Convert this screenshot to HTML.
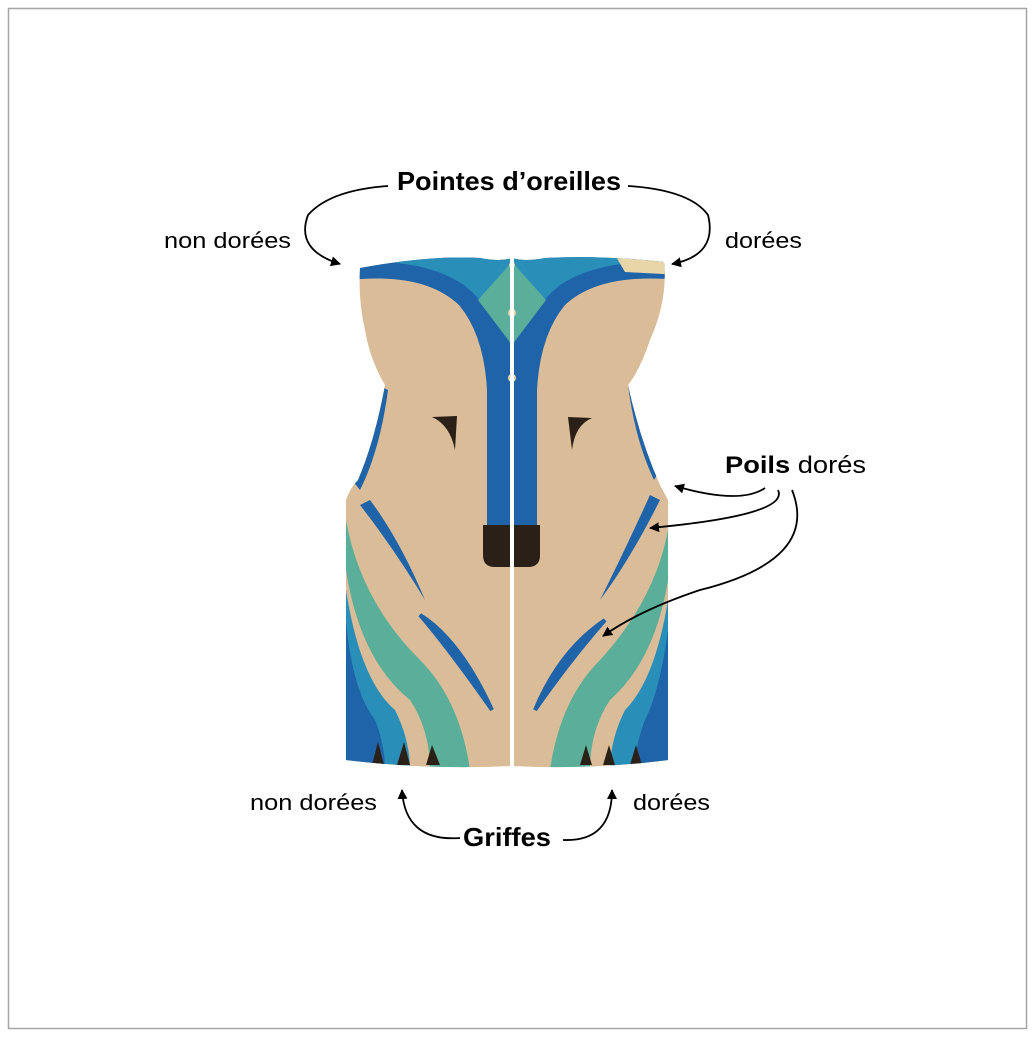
<!DOCTYPE html>
<html><head><meta charset="utf-8"><style>
html,body{margin:0;padding:0;background:#fff;}
svg{display:block;}
text{font-family:"Liberation Sans",sans-serif;fill:#000;}
</style></head><body>
<svg width="1035" height="1037" viewBox="0 0 1035 1037" xmlns="http://www.w3.org/2000/svg">
<defs>
<marker id="ah" markerWidth="10" markerHeight="10" refX="9" refY="5" orient="auto" markerUnits="userSpaceOnUse">
<path d="M0,0 L10,5 L0,10 z" fill="#000"/></marker>
<clipPath id="body">
<path d="M360,268 Q430,255 480,258 Q500,262 512,258 Q525,262 545,258 Q600,255 664,262 Q668,300 650,340 Q640,370 628,385 Q640,440 660,485 L668,500 L668,760 Q590,770 512,766 Q430,770 346,760 L346,500 Q350,488 358,480 Q375,440 385,385 Q370,360 365,330 Q358,300 360,268 Z"/>
</clipPath>
</defs>
<rect x="8.5" y="8.5" width="1018" height="1020" fill="#fff" stroke="#a6a6a6" stroke-width="1.5"/>

<g clip-path="url(#body)">
<rect x="340" y="250" width="340" height="530" fill="#dbbc98"/>
<!-- dark blue Y band -->
<path d="M350,255 L680,255 L680,280 Q600,272 565,305 Q540,335 537,390 L537,525 L487,525 L487,390 Q484,335 459,305 Q424,272 350,280 Z" fill="#1f63a8"/>
<!-- mid blue top -->
<path d="M350,255 L680,255 L680,262 Q600,258 560,285 Q530,310 512,345 Q494,310 464,285 Q424,258 350,262 Z" fill="#2a8fb8"/>
<path d="M478,300 L512,262 L546,300 L512,345 Z" fill="#5aae9a"/>
<path d="M615,255 L680,255 L680,275 L625,272 Z" fill="#e8d6a8"/>
<!-- nose -->
<path d="M483,525 L540,525 L540,555 Q540,567 528,567 L495,567 Q483,567 483,555 Z" fill="#2a2018"/>
<!-- eyes -->
<path d="M432,417 L457,416 L455,450 Q450,425 432,417 Z" fill="#2a2018"/>
<path d="M568,417 L592,418 Q575,425 572,450 Z" fill="#2a2018"/>
<!-- side stripes -->
<path d="M378,385 L388,390 Q380,450 360,490 L352,480 Q370,440 378,385Z" fill="#1f63a8"/>
<path d="M628,385 L636,388 Q640,440 660,470 L654,480 Q635,440 628,385Z" fill="#1f63a8"/>
<path d="M360,505 L370,500 Q400,540 425,600 Q395,550 360,505Z" fill="#1f63a8"/>
<path d="M420,615 Q460,640 492,710 Q450,650 420,615Z" fill="#1f63a8" stroke="#1f63a8" stroke-width="4"/>
<path d="M650,495 L660,500 Q630,560 600,600 Q625,550 650,495Z" fill="#1f63a8"/>
<path d="M605,620 Q560,650 535,710 Q570,660 605,620Z" fill="#1f63a8" stroke="#1f63a8" stroke-width="4"/>
<!-- bottom left -->
<path d="M346,520 Q360,600 420,660 Q460,700 470,770 L346,770 Z" fill="#5aae9a"/>
<path d="M346,570 Q360,660 410,700 Q430,730 430,770 L346,770 Z" fill="#dbbc98"/>
<path d="M346,590 Q360,680 395,710 Q410,740 410,770 L346,770 Z" fill="#2a8fb8"/>
<path d="M346,620 Q352,690 375,720 Q385,745 385,770 L346,770 Z" fill="#1f63a8"/>
<!-- bottom right -->
<path d="M668,530 Q655,600 600,660 Q560,700 550,770 L668,770 Z" fill="#5aae9a"/>
<path d="M668,580 Q655,660 610,700 Q590,730 590,770 L668,770 Z" fill="#dbbc98"/>
<path d="M668,600 Q655,680 625,710 Q610,740 610,770 L668,770 Z" fill="#2a8fb8"/>
<path d="M668,630 Q660,690 645,720 Q635,745 635,770 L668,770 Z" fill="#1f63a8"/>
<!-- claws -->
<path d="M372,765 L378,742 L384,765Z M397,765 L404,742 L410,765Z M426,765 L432,745 L440,765Z" fill="#2a2018"/>
<path d="M580,765 L586,745 L592,765Z M603,765 L609,745 L615,765Z M630,765 L636,745 L642,765Z" fill="#2a2018"/>
<!-- dots -->
<circle cx="512" cy="265" r="3" fill="#e8d6a8"/>
<circle cx="512" cy="313" r="4" fill="#e8d6a8"/>
<circle cx="512" cy="378" r="4" fill="#e8d6a8"/>
</g>
<line x1="512" y1="255" x2="512" y2="772" stroke="#fff" stroke-width="4"/>

<!-- labels -->
<text x="397" y="190" font-size="26" font-weight="bold" textLength="224" lengthAdjust="spacingAndGlyphs">Pointes d’oreilles</text>
<text x="164" y="248" font-size="22" textLength="127" lengthAdjust="spacingAndGlyphs">non dorées</text>
<text x="725" y="248" font-size="22" textLength="77" lengthAdjust="spacingAndGlyphs">dorées</text>
<text x="725" y="473" font-size="24" textLength="141" lengthAdjust="spacingAndGlyphs"><tspan font-weight="bold">Poils</tspan> dorés</text>
<text x="250" y="810" font-size="22" textLength="127" lengthAdjust="spacingAndGlyphs">non dorées</text>
<text x="633" y="810" font-size="22" textLength="77" lengthAdjust="spacingAndGlyphs">dorées</text>
<text x="463" y="846" font-size="26" font-weight="bold" textLength="88" lengthAdjust="spacingAndGlyphs">Griffes</text>

<!-- arrows -->
<g fill="none" stroke="#000" stroke-width="1.8">
<path d="M388,186 Q330,190 308,215 Q295,250 340,264" marker-end="url(#ah)"/>
<path d="M628,186 Q690,190 708,215 Q718,255 672,264" marker-end="url(#ah)"/>
<path d="M765,488 Q740,505 675,486" marker-end="url(#ah)"/>
<path d="M778,490 Q790,515 650,528" marker-end="url(#ah)"/>
<path d="M792,490 Q820,560 700,590 Q640,610 603,636" marker-end="url(#ah)"/>
<path d="M460,838 Q405,842 402,790" marker-end="url(#ah)"/>
<path d="M563,840 Q612,842 612,790" marker-end="url(#ah)"/>
</g>
</svg>
</body></html>
